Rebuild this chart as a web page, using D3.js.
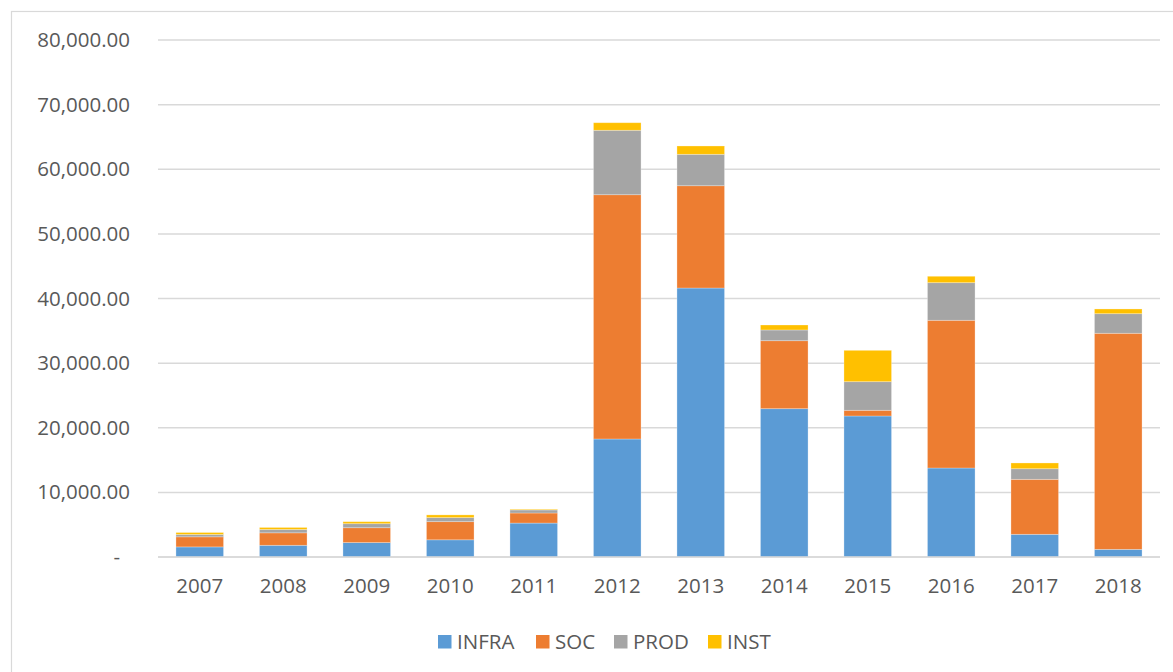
<!DOCTYPE html>
<html>
<head>
<meta charset="utf-8">
<script src="https://cdn.jsdelivr.net/npm/d3@7"></script>
<style>
  html, body { margin: 0; padding: 0; background: #fff; }
  svg { display: block; }
  text { font-family: "Open Sans", "Liberation Sans", sans-serif; fill: #595959; }
</style>
</head>
<body>
<svg id="chart" width="1173" height="672"></svg>
<script>
const years = ["2007","2008","2009","2010","2011","2012","2013","2014","2015","2016","2017","2018"];
const seriesNames = ["INFRA","SOC","PROD","INST"];
const seriesColors = ["#5B9BD5","#ED7D31","#A5A5A5","#FFC000"];
const infra = [1560, 1810, 2230, 2660, 5250, 18260, 41620, 22950, 21820, 13770, 3510, 1180];
const soc   = [1560, 1930, 2300, 2810, 1560, 37800, 15830, 10520,   880, 22860, 8510, 33440];
const prod  = [ 360,  520,  625,  625,  470,  9970,  4860,  1660,  4430,  5820, 1640, 3030];
const inst  = [ 310,  310,  310,  420,  110,  1170,  1290,   770,  4850,   990,  890,  730];
const yTicks = [0, 10000, 20000, 30000, 40000, 50000, 60000, 70000, 80000];

const svg = d3.select("#chart");
const W = 1173, H = 672;

// chart border
svg.append("rect").attr("x", 11.5).attr("y", 11.5).attr("width", W + 10).attr("height", H + 10)
  .attr("fill", "none").attr("stroke", "#D9D9D9").attr("stroke-width", 1.2);

const x = d3.scaleBand().domain(years).range([158, 1160]).paddingInner(0.43).paddingOuter(0.215);
const y = d3.scaleLinear().domain([0, 80000]).range([557, 40]);

// gridlines
svg.append("g").selectAll("line").data(yTicks).join("line")
  .attr("x1", 158).attr("x2", 1160)
  .attr("y1", d => y(d)).attr("y2", d => y(d))
  .attr("stroke", "#D9D9D9").attr("stroke-width", 1.5);

// y axis labels
const fmt = d3.format(",.2f");
const yAxis = d3.axisLeft(y).tickValues(yTicks).tickSize(0).tickPadding(0)
  .tickFormat(d => d === 0 ? "-" : fmt(d));
const gy = svg.append("g").attr("transform", "translate(130,0)").call(yAxis);
gy.select(".domain").remove();
gy.selectAll("text").attr("font-size", "20.5px").attr("fill", "#595959")
  .attr("font-family", "'Open Sans', sans-serif");
gy.selectAll(".tick").filter(d => d === 0).select("text").attr("dx", -10);

// x axis labels
const xAxis = d3.axisBottom(x).tickSize(0).tickPadding(0);
const gx = svg.append("g").attr("transform", "translate(0,578)").call(xAxis);
gx.select(".domain").remove();
gx.selectAll("text").attr("font-size", "20.5px").attr("fill", "#595959")
  .attr("font-family", "'Open Sans', sans-serif");

// stacked data
const rows = years.map((yr, i) => ({ year: yr, INFRA: infra[i], SOC: soc[i], PROD: prod[i], INST: inst[i] }));
const stack = d3.stack().keys(seriesNames)(rows);

const color = d3.scaleOrdinal().domain(seriesNames).range(seriesColors);

svg.append("g").selectAll("g").data(stack).join("g")
  .attr("fill", d => color(d.key))
  .selectAll("rect").data(d => d).join("rect")
  .attr("x", d => x(d.data.year))
  .attr("width", x.bandwidth())
  .attr("y", d => y(d[1]))
  .attr("height", d => y(d[0]) - y(d[1]))
  .attr("stroke", "#ffffff").attr("stroke-opacity", 0.35).attr("stroke-width", 0.8);

// baseline redraw (axis line on top)
svg.append("line").attr("x1", 158).attr("x2", 1160).attr("y1", y(0)).attr("y2", y(0))
  .attr("stroke", "#D9D9D9").attr("stroke-width", 1.5);

// legend
const legendX = [438, 536, 614, 708];
const lg = svg.append("g");
seriesNames.forEach((s, i) => {
  lg.append("rect").attr("x", legendX[i]).attr("y", 635).attr("width", 13.5).attr("height", 13.5)
    .attr("fill", seriesColors[i]);
  lg.append("text").attr("x", legendX[i] + 19).attr("y", 641.5).attr("dy", "0.35em")
    .attr("font-size", "20.5px").text(s);
});
</script>
</body>
</html>
